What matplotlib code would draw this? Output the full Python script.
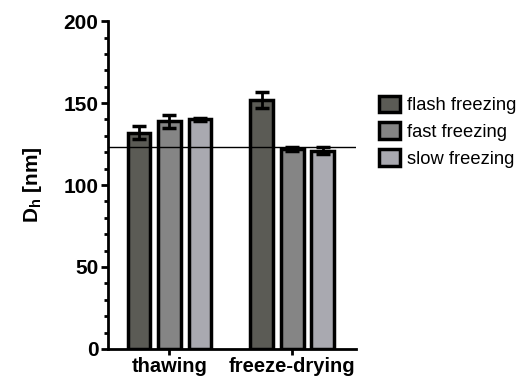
import numpy as np
import matplotlib
matplotlib.use('Agg')
import matplotlib.pyplot as plt
from matplotlib.ticker import MultipleLocator

plt.rcParams['font.family'] = ['Liberation Sans', 'DejaVu Sans']

groups = ['thawing', 'freeze-drying']
series = ['flash freezing', 'fast freezing', 'slow freezing']
values = {
    'flash freezing': [132, 152],
    'fast freezing': [139, 122],
    'slow freezing': [140, 121],
}
errors = {
    'flash freezing': [4, 5],
    'fast freezing': [4, 1],
    'slow freezing': [1, 2],
}
reference_line = 123
colors = ['#5b5b55', '#858585', '#a9a9b0']

fig = plt.figure(figsize=(5.22, 3.78), dpi=100)
ax = fig.add_axes([0.207, 0.077, 0.475, 0.867])

x = np.arange(len(groups))
step = 0.248
width = 0.185
for i, name in enumerate(series):
    ax.bar(x + (i - 1) * step, values[name], width, color=colors[i],
           edgecolor='black', linewidth=2.5, label=name, zorder=2,
           yerr=errors[name], capsize=5,
           error_kw=dict(elinewidth=2, capthick=2.5, ecolor='black'))

ax.axhline(reference_line, color='black', lw=1, zorder=3)

ax.set_xlim(-0.5, 1.52)
ax.set_ylim(0, 200)
ax.set_xticks(x)
ax.set_xticklabels(groups, fontsize=14.5, fontweight='bold')
ax.yaxis.set_major_locator(MultipleLocator(50))
ax.yaxis.set_minor_locator(MultipleLocator(10))
for lbl in ax.get_yticklabels():
    lbl.set_fontweight('bold')
    lbl.set_fontsize(15)
ax.tick_params(axis='y', which='major', length=5, width=2, pad=2)
ax.tick_params(axis='y', which='minor', length=3, width=2)
ax.tick_params(axis='x', length=4, width=2, pad=2)
ax.set_ylabel('D$_\\mathregular{h}$ [nm]', fontsize=15, fontweight='bold', labelpad=14)

for s in ['top', 'right']:
    ax.spines[s].set_visible(False)
for s in ['left', 'bottom']:
    ax.spines[s].set_linewidth(2)

ax.legend(loc='upper left', bbox_to_anchor=(1.065, 0.795), frameon=False,
          fontsize=13.2, handlelength=1.1, handleheight=1.0, handletextpad=0.4,
          labelspacing=0.45, borderaxespad=0)

fig.savefig('out.png', dpi=100)
